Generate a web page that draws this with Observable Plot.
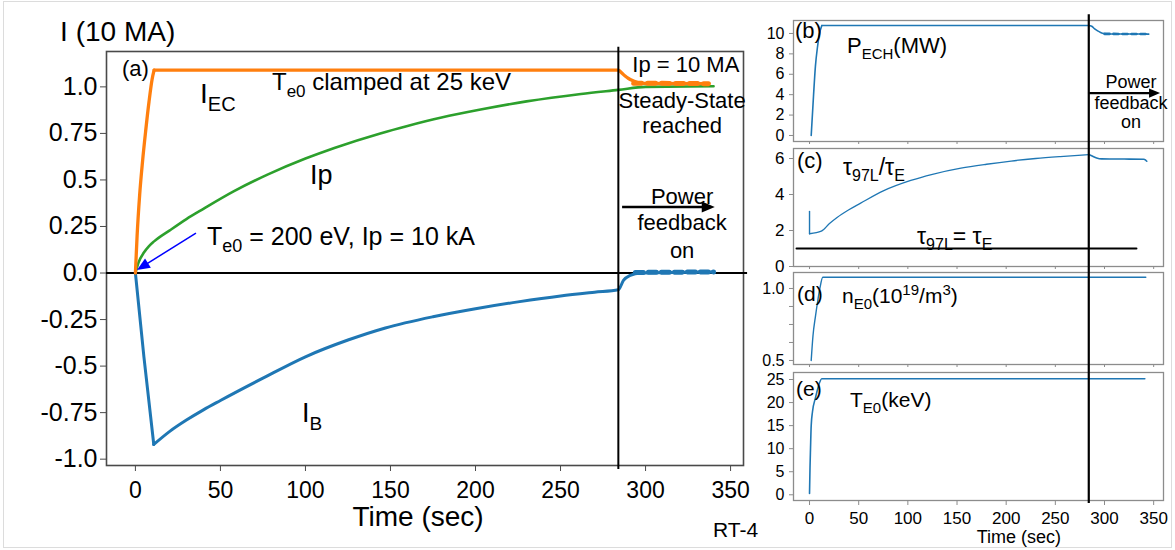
<!DOCTYPE html>
<html><head><meta charset="utf-8">
<script src="https://cdn.jsdelivr.net/npm/d3@7"></script>
<script src="https://cdn.jsdelivr.net/npm/@observablehq/plot@0.6"></script>
<style>
body{margin:0;background:#fff;}
#wrap{position:relative;width:1175px;height:550px;overflow:hidden;font-family:"Liberation Sans",Arial,Helvetica,sans-serif;background:#fff;}
#wrap svg{position:absolute;left:0;top:0;overflow:visible;}
#border{position:absolute;left:3px;top:1px;width:1167px;height:545px;border:1px solid #dcdcdc;}
</style></head><body><div id="wrap"><div id="border"></div></div>
<script>
const FONT = "'Liberation Sans', Arial, Helvetica, sans-serif";
const BLUE = "#1f77b4", ORANGE = "#ff7f0e", GREEN = "#2ca02c";

// ---------- Panel (a) data: currents in units of 10 MA vs time (s) ----------
const iecT = [0, 1, 2.5, 4.2, 6, 8, 9.8, 11, 284, 286, 288, 290, 292, 295, 300, 337];
const iecV = [0, 0.2, 0.42, 0.6, 0.76, 0.92, 1.04, 1.09, 1.09, 1.075, 1.058, 1.045, 1.035, 1.025, 1.018, 1.017];
const iecFbT = [293, 337];
const iecFbV = [1.02, 1.017];

const ipT = [0, 2, 5, 8, 11, 20, 30, 40, 58, 78, 100, 117, 144, 160, 180, 203, 230, 262, 284, 300, 340];
const ipV = [0, 0.06, 0.11, 0.145, 0.17, 0.228, 0.29, 0.345, 0.44, 0.53, 0.615, 0.672, 0.75, 0.79, 0.835, 0.878, 0.922, 0.962, 0.984, 1.0, 1.003];

const ibT = [0, 5, 10.8, 20, 30, 40, 50, 75, 100, 125, 147, 175, 200, 225, 250, 270, 284, 287, 291, 297, 340];
const ibV = [0, -0.45, -0.921, -0.852, -0.79, -0.735, -0.685, -0.565, -0.45, -0.36, -0.295, -0.235, -0.192, -0.155, -0.123, -0.103, -0.09, -0.04, -0.013, 0.0, 0.005];
const ibFbT = [294, 340];
const ibFbV = [0.003, 0.006];

const aXTicks = [0, 50, 100, 150, 200, 250, 300, 350];
const aYTicks = [-1, -0.75, -0.5, -0.25, 0, 0.25, 0.5, 0.75, 1];
const aYTickLabels = ["-1.0", "-0.75", "-0.5", "-0.25", "0.0", "0.25", "0.5", "0.75", "1.0"];
const tSwitch = 284;

// ---------- Right panels data ----------
const pT = [1.7, 4, 6, 8, 10, 12.5, 284, 287, 290, 293, 296, 299, 305, 320, 335, 345];
const pV = [0, 3.8, 6.8, 8.6, 9.9, 10.78, 10.78, 10.7, 10.45, 10.25, 10.1, 10.0, 9.95, 9.95, 9.95, 9.93];
const pFbT = [300, 345];
const pFbV = [9.96, 9.94];

const tauT = [0, 0, 12, 20, 28, 40, 52, 75, 103, 125, 154, 180, 205, 230, 255, 284, 288, 292, 297, 320, 340, 342, 343];
const tauV = [3.06, 1.82, 1.96, 2.37, 2.72, 3.15, 3.52, 4.2, 4.78, 5.12, 5.46, 5.68, 5.86, 6.0, 6.11, 6.22, 6.12, 6.03, 5.98, 5.97, 5.96, 5.9, 5.85];
const tauRefT = [-13.25, 332.5];
const tauRefV = [1, 1];

const nT = [1.7, 3.5, 6.1, 8.5, 10.5, 13.5, 342];
const nV = [0.5, 0.67, 0.81, 0.92, 1.0, 1.078, 1.078];

const teT = [0, 0.5, 1, 1.7, 3, 6, 9, 12.5, 341];
const teV = [0.3, 6, 10, 15, 18, 21, 23.5, 25.15, 25.15];

const rXTicks = [0, 50, 100, 150, 200, 250, 300, 350];
const bYTicks = [0, 2, 4, 6, 8, 10];
const cYTicks = [0, 2, 4, 6];
const dYTicks = [0.5, 0.625, 0.75, 0.875, 1.0];
const dYLabels = ["0.5", "", "", "", "1.0"];
const eYTicks = [0, 5, 10, 15, 20, 25];

// ---------- annotations (data coordinates of each panel) ----------
const aNotes = [
  {x: -44, y: 1.244, size: 28, parts: [["I (10 MA)"]]},
  {x: -7.6, y: 1.056, size: 22, parts: [["(a)"]]},
  {x: 38.3, y: 0.911, size: 28, small: 20, parts: [["I"], ["EC", "sub"]]},
  {x: 80.6, y: 0.981, size: 24, small: 17, parts: [["T"], ["e0", "sub"], [" clamped at 25 keV"]]},
  {x: 103, y: 0.476, size: 27, parts: [["Ip"]]},
  {x: 42.4, y: 0.148, size: 25, small: 18, parts: [["T"], ["e0", "sub"], [" = 200 eV, Ip = 10 kA"]]},
  {x: 98.3, y: -0.803, size: 27, small: 19, parts: [["I"], ["B", "sub"]]},
  {x: 324, y: 1.077, size: 22, anchor: "middle", parts: [["Ip = 10 MA"]]},
  {x: 321.8, y: 0.884, size: 22, anchor: "middle", parts: [["Steady-State"]]},
  {x: 321.8, y: 0.75, size: 22, anchor: "middle", parts: [["reached"]]},
  {x: 321.8, y: 0.368, size: 22, anchor: "middle", parts: [["Power"]]},
  {x: 321.8, y: 0.228, size: 22, anchor: "middle", parts: [["feedback"]]},
  {x: 321.8, y: 0.078, size: 22, anchor: "middle", parts: [["on"]]},
  {x: 166.5, y: -1.364, size: 28, anchor: "middle", parts: [["Time (sec)"]]},
  {x: 340, y: -1.421, size: 21, parts: [["RT-4"]]}
];
const aArrows = [
  {x1: 35.9, y1: 0.212, x2: 1.2, y2: 0.0135, color: "#0000ff", width: 1.5, head: 13},
  {x1: 286.5, y1: 0.352, x2: 341, y2: 0.352, color: "black", width: 2.5, head: 13}
];
const bNotes = [
  {x: -14.3, y: 9.5, size: 22, parts: [["(b)"]]},
  {x: 38.6, y: 8.03, size: 22, small: 15, parts: [["P"], ["ECH", "sub"], ["(MW)"]]},
  {x: 327.5, y: 4.6, size: 18, anchor: "middle", parts: [["Power"]]},
  {x: 327.5, y: 2.55, size: 18, anchor: "middle", parts: [["feedback"]]},
  {x: 327.5, y: 0.68, size: 18, anchor: "middle", parts: [["on"]]}
];
const bArrows = [{x1: 283.7, y1: 4.11, x2: 357, y2: 4.11, color: "black", width: 2.2, head: 11}];
const cNotes = [
  {x: -12.2, y: 5.44, size: 22, parts: [["(c)"]]},
  {x: 34.5, y: 5.06, size: 23, small: 16, parts: [["τ"], ["97L", "sub"], ["/τ"], ["E", "sub"]]},
  {x: 109.8, y: 1.22, size: 23, small: 16, parts: [["τ"], ["97L", "sub"], ["= τ"], ["E", "sub"]]}
];
const dNotes = [
  {x: -12.2, y: 0.91, size: 21, parts: [["(d)"]]},
  {x: 33.5, y: 0.896, size: 21, small: 15, parts: [["n"], ["E0", "sub"], ["(10"], ["19", "sup"], ["/m"], ["3", "sup"], [")"]]}
];
const eNotes = [
  {x: -13.25, y: 21.3, size: 21, parts: [["(e)"]]},
  {x: 41.7, y: 18.93, size: 21, small: 15, parts: [["T"], ["E0", "sub"], ["(keV)"]]},
  {x: 213.5, y: -10.56, size: 18, anchor: "middle", parts: [["Time (sec)"]]}
];

// ---------- helpers ----------
const rows = (T, V, a = 0, b = T.length) => T.slice(a, b).map((t, i) => ({t, v: V.slice(a, b)[i]}));
function fns(plot) {
  const sx = plot.scale("x"), sy = plot.scale("y");
  const fx = sx.apply ? (v) => sx.apply(v) : d3.scaleLinear(sx.domain, sx.range);
  const fy = sy.apply ? (v) => sy.apply(v) : d3.scaleLinear(sy.domain, sy.range);
  return [fx, fy];
}
function richText(plot, item) {
  const [fx, fy] = fns(plot);
  const t = d3.select(plot).append("text")
    .attr("x", fx(item.x)).attr("y", fy(item.y))
    .attr("text-anchor", item.anchor || "start")
    .attr("font-size", item.size).attr("font-family", FONT).attr("fill", "black");
  let shift = 0;
  const small = item.small || Math.round(item.size * 0.7);
  for (const [s, k] of item.parts) {
    const target = k === "sub" ? item.size * 0.28 : k === "sup" ? -item.size * 0.4 : 0;
    t.append("tspan").attr("dy", target - shift).attr("font-size", k ? small : item.size).text(s);
    shift = target;
  }
}
function drawArrow(plot, a) {
  const [fx, fy] = fns(plot);
  const x1 = fx(a.x1), y1 = fy(a.y1), x2 = fx(a.x2), y2 = fy(a.y2);
  const ang = Math.atan2(y2 - y1, x2 - x1);
  const L = a.head, W = a.head * 0.42;
  const bx = x2 - L * Math.cos(ang), by = y2 - L * Math.sin(ang);
  const g = d3.select(plot).append("g");
  g.append("line").attr("x1", x1).attr("y1", y1).attr("x2", bx + Math.cos(ang)).attr("y2", by + Math.sin(ang))
    .attr("stroke", a.color).attr("stroke-width", a.width);
  g.append("path").attr("d",
    `M${x2},${y2}L${bx - W * Math.sin(ang)},${by + W * Math.cos(ang)}L${bx + W * Math.sin(ang)},${by - W * Math.cos(ang)}Z`)
    .attr("fill", a.color);
}
const seg = (T, V, a, b, opts) => Plot.line(rows(T, V, a, b), {x: "t", y: "v", curve: "monotone-x", ...opts});

const wrap = document.getElementById("wrap");

// ---------- Panel (a) ----------
const A = Plot.plot({
  width: 760, height: 550,
  marginLeft: 106, marginRight: 17, marginTop: 51, marginBottom: 85,
  x: {domain: [-17, 357.6]},
  y: {domain: [-1.034, 1.19]},
  style: {fontFamily: FONT, background: "transparent", overflow: "visible", color: "black"},
  marks: [
    Plot.frame({stroke: "#4a4a4a", strokeWidth: 1.6}),
    Plot.axisX({ticks: aXTicks, tickSize: 6, tickPadding: 10, fontSize: 23, label: null, stroke: "#4a4a4a", fill: "black"}),
    Plot.axisY({ticks: aYTicks, tickFormat: d => aYTickLabels[aYTicks.indexOf(d)], tickSize: 6, tickPadding: 3, fontSize: 25, label: null, stroke: "#4a4a4a", fill: "black"}),
    Plot.ruleY([0], {x1: -17, x2: 360, stroke: "black", strokeWidth: 2}),
    seg(ibT, ibV, 0, 3, {stroke: BLUE, strokeWidth: 3}),
    seg(ibT, ibV, 2, ibT.length, {stroke: BLUE, strokeWidth: 3}),
    Plot.line(rows(ibFbT, ibFbV), {x: "t", y: "v", stroke: BLUE, strokeWidth: 5, strokeDasharray: "8,5"}),
    seg(ipT, ipV, 0, ipT.length, {stroke: GREEN, strokeWidth: 2.6}),
    seg(iecT, iecV, 0, 8, {stroke: ORANGE, strokeWidth: 3.3}),
    seg(iecT, iecV, 7, iecT.length, {stroke: ORANGE, strokeWidth: 3.3}),
    Plot.line(rows(iecFbT, iecFbV), {x: "t", y: "v", stroke: ORANGE, strokeWidth: 5, strokeDasharray: "8,6"}),
    Plot.ruleX([tSwitch], {y1: 1.213, y2: -1.056, stroke: "black", strokeWidth: 2})
  ]
});
aNotes.forEach(n => richText(A, n));
aArrows.forEach(a => drawArrow(A, a));
wrap.appendChild(A);

// ---------- right panels ----------
function panel({top, bottom, yDomain, yTicks, yFormat, yFont, xLabels, marks}) {
  return Plot.plot({
    width: 1175, height: 550,
    marginLeft: 793, marginRight: 12, marginTop: top, marginBottom: 550 - bottom,
    x: {domain: [-16.3, 360]},
    y: {domain: yDomain},
    style: {fontFamily: FONT, background: "transparent", overflow: "visible", color: "black"},
    marks: [
      Plot.frame({stroke: "#8c8c8c", strokeWidth: 1.3}),
      Plot.axisY({ticks: yTicks, tickFormat: yFormat, tickSize: 4, tickPadding: 5, fontSize: yFont, label: null, stroke: "#8c8c8c", fill: "black"}),
      xLabels
        ? Plot.axisX({ticks: rXTicks, tickSize: 5, tickPadding: 6, fontSize: 17, label: null, stroke: "#8c8c8c", fill: "black"})
        : Plot.axisX({ticks: rXTicks, tickSize: 3, tickFormat: () => "", label: null, stroke: "#8c8c8c"}),
      ...marks
    ]
  });
}

const B = panel({
  top: 20, bottom: 141, yDomain: [-0.59, 11.27], yTicks: bYTicks, yFormat: d => String(d), yFont: 16,
  marks: [
    seg(pT, pV, 0, 6, {stroke: BLUE, strokeWidth: 1.6}),
    seg(pT, pV, 5, pT.length, {stroke: BLUE, strokeWidth: 1.6}),
    Plot.line(rows(pFbT, pFbV), {x: "t", y: "v", stroke: BLUE, strokeWidth: 2.6, strokeDasharray: "5,4"})
  ]
});
bNotes.forEach(n => richText(B, n));
bArrows.forEach(a => drawArrow(B, a));
wrap.appendChild(B);

const C = panel({
  top: 148, bottom: 266, yDomain: [0, 6.556], yTicks: cYTicks, yFormat: d => String(d), yFont: 17,
  marks: [
    Plot.line(rows(tauRefT, tauRefV), {x: "t", y: "v", stroke: "black", strokeWidth: 2}),
    Plot.line(rows(tauT, tauV, 0, 2), {x: "t", y: "v", stroke: BLUE, strokeWidth: 1.4}),
    seg(tauT, tauV, 1, 16, {stroke: BLUE, strokeWidth: 1.3}),
    seg(tauT, tauV, 15, tauT.length, {stroke: BLUE, strokeWidth: 1.6})
  ]
});
cNotes.forEach(n => richText(C, n));
wrap.appendChild(C);

const D = panel({
  top: 272, bottom: 364, yDomain: [0.472, 1.111], yTicks: dYTicks, yFormat: d => dYLabels[dYTicks.indexOf(d)], yFont: 16,
  marks: [
    seg(nT, nV, 0, nT.length, {stroke: BLUE, strokeWidth: 1.4})
  ]
});
dNotes.forEach(n => richText(D, n));
wrap.appendChild(D);

const E = panel({
  top: 372, bottom: 500, yDomain: [-1.24, 26.52], yTicks: eYTicks, yFormat: d => String(d), yFont: 16, xLabels: true,
  marks: [
    seg(teT, teV, 0, teT.length, {stroke: BLUE, strokeWidth: 1.6}),
    Plot.ruleX([tSwitch], {y1: 104.1, y2: -1.9, stroke: "black", strokeWidth: 2.2})
  ]
});
eNotes.forEach(n => richText(E, n));
wrap.appendChild(E);
</script></body></html>
